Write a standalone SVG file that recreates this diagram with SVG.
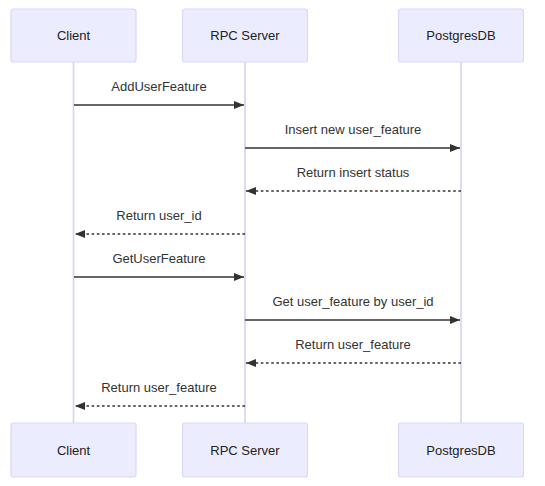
<svg xmlns="http://www.w3.org/2000/svg" width="545" height="486" viewBox="0 0 545 486">
<defs>
<style>
.actor{fill:#ECECFF;stroke:#DDD6F6;stroke-width:1.2}
.lifeline{stroke:#DACEF3;stroke-width:1.6}
.atext{font-family:"Liberation Sans",Arial,sans-serif;font-size:13px;fill:#222;text-anchor:middle}
.mtext{font-family:"Liberation Sans",Arial,sans-serif;font-size:13px;fill:#333;text-anchor:middle}
.msg{stroke:#333;stroke-width:1.3;fill:none}
.dash{stroke-dasharray:2.6,2.6}
</style>
<marker id="ah" viewBox="0 0 10 8" refX="10" refY="4" markerUnits="userSpaceOnUse" markerWidth="10" markerHeight="8" orient="auto">
<path d="M0,0 L10,4 L0,8 Z" fill="#333"/>
</marker>
</defs>
<rect width="545" height="486" fill="#ffffff"/>
<g id="lifelines">
<line class="lifeline" x1="73.5" y1="62" x2="73.5" y2="423"/>
<line class="lifeline" x1="245" y1="62" x2="245" y2="423"/>
<line class="lifeline" x1="461" y1="62" x2="461" y2="423"/>
</g>
<g id="actor-client-top"><rect class="actor" x="11" y="9" width="125" height="53" rx="2.5"/><text class="atext" x="73.5" y="40">Client</text></g>
<g id="actor-rpc-top"><rect class="actor" x="182.5" y="9" width="125" height="53" rx="2.5"/><text class="atext" x="245" y="40">RPC Server</text></g>
<g id="actor-pg-top"><rect class="actor" x="398.5" y="9" width="125" height="53" rx="2.5"/><text class="atext" x="461" y="40">PostgresDB</text></g>
<g id="actor-client-bottom"><rect class="actor" x="11" y="423" width="125" height="54" rx="2.5"/><text class="atext" x="73.5" y="454.5">Client</text></g>
<g id="actor-rpc-bottom"><rect class="actor" x="182.5" y="423" width="125" height="54" rx="2.5"/><text class="atext" x="245" y="454.5">RPC Server</text></g>
<g id="actor-pg-bottom"><rect class="actor" x="398.5" y="423" width="125" height="54" rx="2.5"/><text class="atext" x="461" y="454.5">PostgresDB</text></g>
<g id="connectors">
<line class="msg" x1="74" y1="105" x2="244" y2="105" marker-end="url(#ah)"/>
<text class="mtext" x="159" y="91">AddUserFeature</text>
<line class="msg" x1="245" y1="148" x2="460" y2="148" marker-end="url(#ah)"/>
<text class="mtext" x="353" y="134">Insert new user_feature</text>
<line class="msg dash" x1="461" y1="191" x2="246" y2="191" marker-end="url(#ah)"/>
<text class="mtext" x="353" y="177">Return insert status</text>
<line class="msg dash" x1="245" y1="234" x2="75" y2="234" marker-end="url(#ah)"/>
<text class="mtext" x="159" y="220">Return user_id</text>
<line class="msg" x1="74" y1="277" x2="244" y2="277" marker-end="url(#ah)"/>
<text class="mtext" x="159" y="263">GetUserFeature</text>
<line class="msg" x1="245" y1="320" x2="460" y2="320" marker-end="url(#ah)"/>
<text class="mtext" x="353" y="306">Get user_feature by user_id</text>
<line class="msg dash" x1="461" y1="363" x2="246" y2="363" marker-end="url(#ah)"/>
<text class="mtext" x="353" y="349">Return user_feature</text>
<line class="msg dash" x1="245" y1="406" x2="75" y2="406" marker-end="url(#ah)"/>
<text class="mtext" x="159" y="392">Return user_feature</text>
</g>
</svg>
